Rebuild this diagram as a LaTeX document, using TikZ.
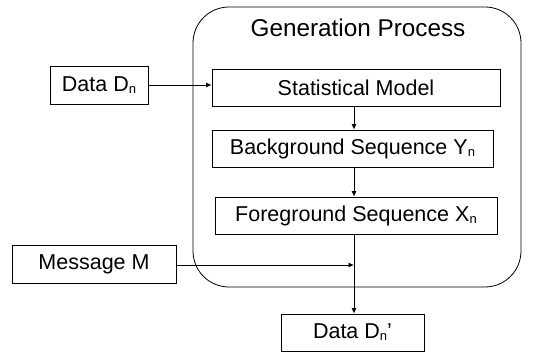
\documentclass[tikz,border=0pt]{standalone}
\usepackage{fontspec}
\setmainfont{Liberation Sans}
\usetikzlibrary{arrows.meta}
\newcommand{\subn}{\raisebox{-2pt}{\fontsize{13}{13}\selectfont n}}
\tikzset{
  box/.style={draw=black, line width=0.8pt, inner sep=0pt, font=\fontsize{21.5}{25}\selectfont},
  conn/.style={draw=black, line width=0.8pt, -{Latex[length=5.5pt,width=5pt]}},
  plain/.style={draw=black, line width=0.8pt}
}
\begin{document}
\begin{tikzpicture}[x=1pt,y=-1pt]
\useasboundingbox (0,0) rectangle (542,352);
% outer process frame
\draw[plain, rounded corners=36pt] (193,7) rectangle (521,287);
\node[font=\fontsize{24.3}{28}\selectfont] (title) at (358,28) {Generation Process};
% nodes
\node[box, minimum width=98pt, minimum height=38pt] (data) at (99,85) {Data D\subn};
\node[box, minimum width=288pt, minimum height=37pt] (stat) at (356,87.5) {Statistical Model};
\node[box, minimum width=281pt, minimum height=37pt] (bg) at (352.5,148.5) {Background Sequence Y\subn};
\node[box, minimum width=282pt, minimum height=37pt] (fg) at (356,215.5) {Foreground Sequence X\subn};
\node[box, minimum width=164pt, minimum height=38pt] (msg) at (94,264) {Message M};
\node[box, minimum width=143pt, minimum height=37pt] (out) at (352.5,332.5) {Data D\subn’};
\coordinate (join) at (354,265);
% connectors
\draw[conn] (data.east) -- (data.east -| stat.west);
\draw[conn] (stat.south -| join) -- (bg.north -| join);
\draw[conn] (bg.south -| join) -- (fg.north -| join);
\draw[conn] (fg.south -| join) -- (out.north -| join);
\draw[conn] (msg.east |- join) -- (join);
\end{tikzpicture}
\end{document}
